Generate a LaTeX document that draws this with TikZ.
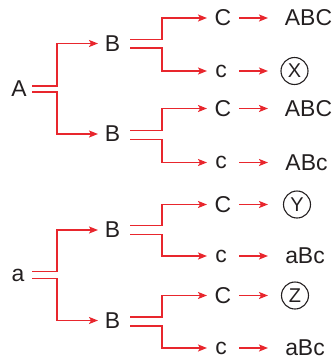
\documentclass[tikz,border=0pt]{standalone}
\usepackage{fontspec}
\setmainfont{Liberation Sans}
\usetikzlibrary{arrows.meta}
\definecolor{tred}{HTML}{E8262D}
\definecolor{tink}{HTML}{231F20}
\begin{document}
\begin{tikzpicture}[x=1bp,y=-1bp,
  lbl/.style={inner sep=0pt, text=tink, font=\fontsize{23}{23}\selectfont},
  res/.style={circle, draw=tink, line width=1.1bp, minimum size=27bp, inner sep=0pt, text=tink, font=\fontsize{20}{20}\selectfont},
  ln/.style={draw=tred, line width=1.4bp},
  arr/.style={ln, -{Stealth[length=9bp,width=7bp,inset=2bp]}}]
\useasboundingbox (0,0) rectangle (336,360);
% level 0
\node[lbl] (A) at (19,89) {A};
\node[lbl] (a) at (18,275.5) {a};
% level 1
\node[lbl] (B1) at (112.5,43.5) {B};
\node[lbl] (B2) at (112.5,134) {B};
\node[lbl] (B3) at (112.5,230) {B};
\node[lbl] (B4) at (112.5,320.5) {B};
% level 2
\node[lbl] (C1) at (223,18) {C};
\node[lbl] (c1) at (221,71) {c};
\node[lbl] (C2) at (223,108.5) {C};
\node[lbl] (c2) at (221,162.5) {c};
\node[lbl] (C3) at (223,204.5) {C};
\node[lbl] (c3) at (221,256) {c};
\node[lbl] (C4) at (223,295.5) {C};
\node[lbl] (c4) at (221,348) {c};
% results
\node[lbl] (R1) at (308.5,18) {ABC};
\node[res] (R2) at (294.5,71) {X};
\node[lbl] (R3) at (308.5,108.5) {ABC};
\node[lbl] (R4) at (306.5,162.5) {ABc};
\node[res] (R5) at (297,204.5) {Y};
\node[lbl] (R6) at (305,256) {aBc};
\node[res] (R7) at (295,295.5) {Z};
\node[lbl] (R8) at (305,348) {aBc};
% branches from A and a
\draw[arr] (A -| 32,0) ++(0,-3) -- ++(25,0) |- (B1.west -| 98,0);
\draw[arr] (A -| 32,0) ++(0,3) -- ++(25,0) |- (B2.west -| 98,0);
\draw[arr] (a -| 32,0) ++(0,-4) -- ++(25,0) |- (B3.west -| 98,0);
\draw[arr] (a -| 32,0) ++(0,3) -- ++(25,0) |- (B4.west -| 98,0);
% branches from B
\draw[arr] (B1 -| 130,0) ++(0,-4) -- ++(32,0) |- (C1.west -| 207,0);
\draw[arr] (B1 -| 130,0) ++(0,4.5) -- ++(32,0) |- (c1.west -| 207,0);
\draw[arr] (B2 -| 130,0) ++(0,-3.5) -- ++(32,0) |- (C2.west -| 207,0);
\draw[arr] (B2 -| 130,0) ++(0,5.5) -- ++(32,0) |- (c2.west -| 207,0);
\draw[arr] (B3 -| 130,0) ++(0,-4.5) -- ++(32,0) |- (C3.west -| 207,0);
\draw[arr] (B3 -| 130,0) ++(0,4.5) -- ++(32,0) |- (c3.west -| 207,0);
\draw[arr] (B4 -| 130,0) ++(0,-3.5) -- ++(32,0) |- (C4.west -| 207,0);
\draw[arr] (B4 -| 130,0) ++(0,5.5) -- ++(32,0) |- (c4.west -| 207,0);
% C -> result
\draw[arr] (C1 -| 239,0) -- (R1 -| 268,0);
\draw[arr] (c1 -| 239,0) -- (R2 -| 268,0);
\draw[arr] (C2 -| 239,0) -- (R3 -| 268,0);
\draw[arr] (c2 -| 239,0) -- (R4 -| 268,0);
\draw[arr] (C3 -| 239,0) -- (R5 -| 268,0);
\draw[arr] (c3 -| 239,0) -- (R6 -| 268,0);
\draw[arr] (C4 -| 239,0) -- (R7 -| 268,0);
\draw[arr] (c4 -| 239,0) -- (R8 -| 268,0);
\end{tikzpicture}
\end{document}
